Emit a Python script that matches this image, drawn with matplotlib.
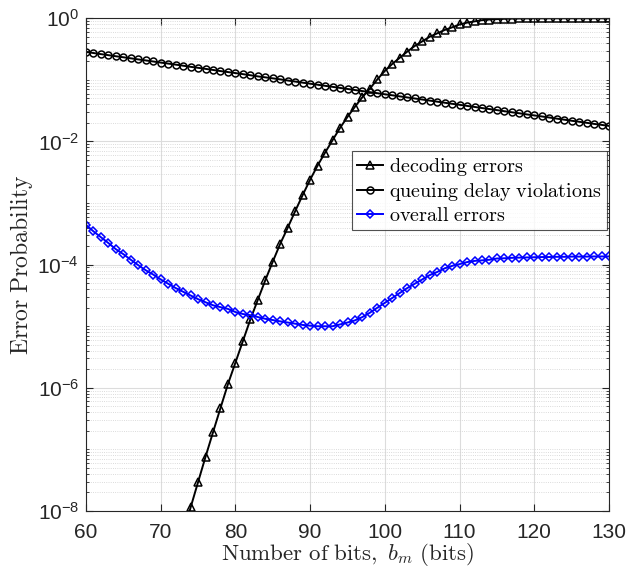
import numpy as np
import matplotlib
matplotlib.use("Agg")
import matplotlib.pyplot as plt
from matplotlib.ticker import LogLocator, FixedLocator, NullFormatter

# ============================================================================
# DATA
# ============================================================================
bits = list(range(60, 131))

queuing = [
    0.284, 0.273, 0.262, 0.252, 0.242, 0.233, 0.224, 0.215, 0.207, 0.199,
    0.191, 0.184, 0.177, 0.170, 0.163, 0.157, 0.151, 0.145, 0.139, 0.134,
    0.129, 0.124, 0.119, 0.114, 0.110, 0.106, 0.102, 0.0977, 0.0939, 0.0902,
    0.0867, 0.0834, 0.0802, 0.0771, 0.0741, 0.0712, 0.0684, 0.0658, 0.0632, 0.0608,
    0.0584, 0.0562, 0.0540, 0.0519, 0.0499, 0.0480, 0.0461, 0.0443, 0.0426, 0.0409,
    0.0394, 0.0378, 0.0364, 0.0349, 0.0336, 0.0323, 0.0310, 0.0298, 0.0287, 0.0275,
    0.0265, 0.0255, 0.0245, 0.0235, 0.0226, 0.0217, 0.0209, 0.0201, 0.0193, 0.0186,
    0.0179,
]

decoding_bits = list(range(73, 131))
decoding = [
    4.3e-9, 1.14e-8, 2.95e-8, 7.6e-8, 1.9e-7, 4.7e-7, 1.15e-6,
    2.57e-6, 5.75e-6, 1.29e-5, 2.69e-5, 5.6e-5, 1.12e-4, 2.19e-4, 3.98e-4, 7.4e-4, 1.35e-3,
    2.4e-3, 4.07e-3, 6.6e-3, 1.05e-2, 1.66e-2, 2.51e-2, 3.67e-2, 5.25e-2, 7.24e-2, 0.102,
    0.140, 0.182, 0.229, 0.288, 0.355, 0.422, 0.501, 0.569, 0.646, 0.713,
    0.794, 0.851, 0.891, 0.933, 0.955, 0.970, 0.982, 0.989, 0.993, 0.996,
    0.998, 0.999, 0.999, 1.0, 1.0, 1.0, 1.0, 1.0, 1.0, 1.0,
    1.0,
]

overall = [
    4.42e-4, 3.47e-4, 2.79e-4, 2.24e-4, 1.78e-4, 1.48e-4, 1.20e-4, 9.8e-5, 8.1e-5, 6.9e-5,
    5.75e-5, 4.9e-5, 4.17e-5, 3.63e-5, 3.16e-5, 2.75e-5, 2.45e-5, 2.19e-5, 2.04e-5, 1.91e-5,
    1.70e-5, 1.58e-5, 1.51e-5, 1.41e-5, 1.32e-5, 1.26e-5, 1.20e-5, 1.15e-5, 1.10e-5, 1.05e-5,
    1.02e-5, 1.00e-5, 1.00e-5, 1.00e-5, 1.07e-5, 1.15e-5, 1.245e-5, 1.41e-5, 1.66e-5, 2.0e-5,
    2.4e-5, 2.88e-5, 3.47e-5, 4.17e-5, 4.9e-5, 5.75e-5, 6.76e-5, 7.6e-5, 8.7e-5, 9.55e-5,
    1.02e-4, 1.10e-4, 1.15e-4, 1.175e-4, 1.20e-4, 1.26e-4, 1.27e-4, 1.29e-4, 1.30e-4, 1.31e-4,
    1.32e-4, 1.33e-4, 1.33e-4, 1.34e-4, 1.34e-4, 1.35e-4, 1.35e-4, 1.35e-4, 1.36e-4, 1.36e-4,
    1.36e-4,
]

x_ticks = [60, 70, 80, 90, 100, 110, 120, 130]
y_major = [1e-8, 1e-6, 1e-4, 1e-2, 1e0]

# ============================================================================
# PLOT
# ============================================================================
plt.rcParams["font.family"] = ["Liberation Sans", "DejaVu Sans"]
plt.rcParams["mathtext.fontset"] = "cm"

AX_COL = "#262626"

fig = plt.figure(figsize=(6.26, 5.71), dpi=100)
ax = fig.add_axes([86 / 626, 1 - 511 / 571, (609 - 86) / 626, (511 - 18.3) / 571])

ax.plot(decoding_bits, decoding, color="black", lw=1.4, marker="^", ms=5.5,
        mfc="none", mew=1.1, label=r"$\mathrm{decoding\ errors}$")
ax.plot(bits, queuing, color="black", lw=1.4, marker="o", ms=5,
        mfc="none", mew=1.1, label=r"$\mathrm{queuing\ delay\ violations}$")
ax.plot(bits, overall, color="blue", lw=1.4, marker="D", ms=4.5,
        mfc="none", mew=1.1, label=r"$\mathrm{overall\ errors}$")

ax.set_yscale("log")
ax.set_xlim(60, 130)
ax.set_ylim(1e-8, 1)
ax.set_xticks(x_ticks)
ax.yaxis.set_major_locator(FixedLocator(y_major))
ax.yaxis.set_minor_locator(LogLocator(base=10, subs=np.arange(1, 10), numticks=30))
ax.yaxis.set_minor_formatter(NullFormatter())

ax.grid(True, which="major", axis="both", color="#dcdcdc", lw=0.8, ls="-")
ax.grid(True, which="minor", axis="y", color="#cfcfcf", lw=0.6, ls=":")
ax.set_axisbelow(True)

for s in ax.spines.values():
    s.set_color(AX_COL)
    s.set_linewidth(0.8)
ax.tick_params(which="both", direction="in", top=True, right=True, colors=AX_COL,
               labelsize=15)
ax.tick_params(which="major", length=5)
ax.tick_params(which="minor", length=2.5)
ax.tick_params(axis="x", which="major", pad=9)
ax.tick_params(axis="y", which="major", pad=5)

ax.set_xlabel(r"$\mathrm{Number\ of\ bits,}\ b_m\ \mathrm{(bits)}$", fontsize=16.5,
              color=AX_COL, labelpad=-1)
ax.set_ylabel(r"$\mathrm{Error\ Probability}$", fontsize=17, color=AX_COL, labelpad=2)

leg = ax.legend(loc="upper left",
                bbox_to_anchor=((352 - 86) / 523, 1 - (151 - 18.3) / 492.7),
                fontsize=14.5, frameon=True, fancybox=False, edgecolor=AX_COL,
                handlelength=1.3, handletextpad=0.3, borderpad=0.25,
                labelspacing=0.15, borderaxespad=0.0)
leg.get_frame().set_linewidth(0.8)

fig.savefig("out.png", dpi=100)
